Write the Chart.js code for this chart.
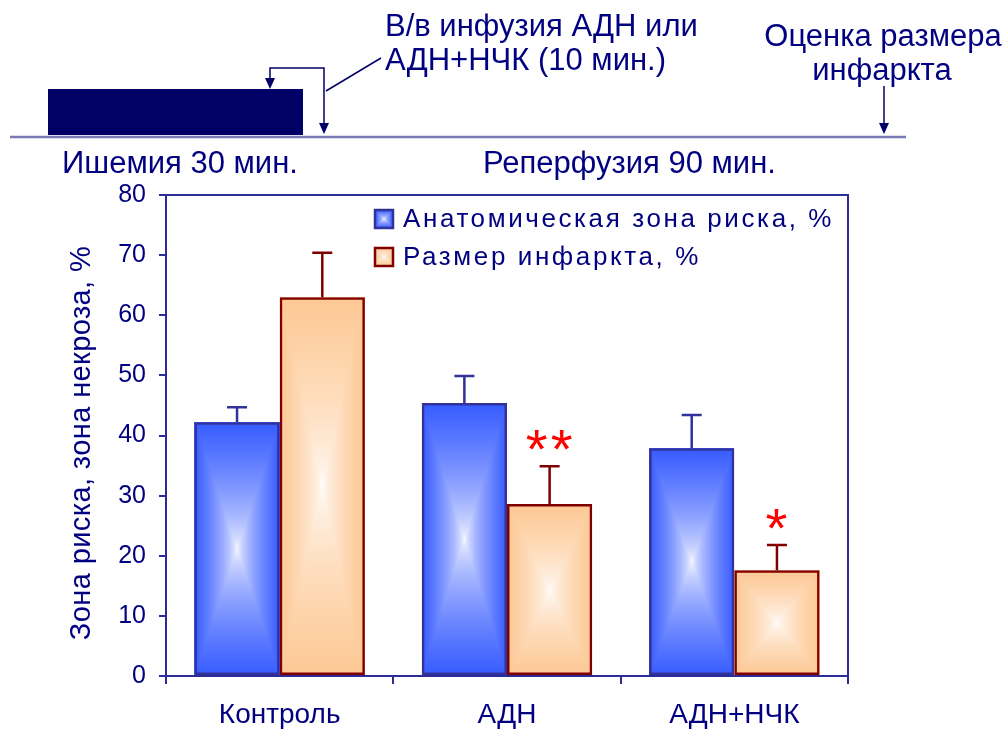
<!DOCTYPE html>
<html>
<head>
<meta charset="utf-8">
<script src="https://cdn.jsdelivr.net/npm/chart.js@4.4.1/dist/chart.umd.min.js"></script>
<style>
  html, body { margin: 0; padding: 0; background: #ffffff; }
  canvas { display: block; }
</style>
</head>
<body>
<canvas id="chart" width="1005" height="729"></canvas>
<script>
// Groups and measured values (mean and SEM, %)
const categories = ['Контроль', 'АДН', 'АДН+НЧК'];
const riskZone = [42.2, 45.4, 37.9];
const riskZoneSem = [2.5, 4.5, 5.5];
const infarctSize = [63.0, 28.6, 17.6];
const infarctSizeSem = [7.4, 6.3, 4.2];
const infarctSignificance = ['', '**', '*'];
const seriesLabels = ['Анатомическая зона риска, %', 'Размер инфаркта, %'];
const yAxisTitle = 'Зона риска, зона некроза, %';
const yRange = [0, 80];
const yStep = 10;

// Protocol timeline labels
const infusionNote = ['В/в инфузия АДН или', 'АДН+НЧК (10 мин.)'];
const assessmentNote = ['Оценка размера', 'инфаркта'];
const phaseLabels = ['Ишемия 30 мин.', 'Реперфузия 90 мин.'];

const FONT = '"Liberation Sans", Arial, sans-serif';
const TEXT = '#000080';
const AXIS = '#2c2c98';
const BLUE_EDGE = [55, 92, 255];
const ORANGE_EDGE = [253, 200, 148];
const BLUE_LINE = '#32329a';
const RED_LINE = '#800000';

Chart.defaults.font.family = FONT;

// Rectangular "from centre" gradient tile: white in the middle, edge colour at the border
function gradientTile(w, h, edge) {
  w = Math.max(1, Math.round(w));
  h = Math.max(1, Math.round(h));
  const c = document.createElement('canvas');
  c.width = w; c.height = h;
  const g = c.getContext('2d');
  const img = g.createImageData(w, h);
  const hw = w / 2, hh = h / 2;
  for (let j = 0; j < h; j++) {
    for (let i = 0; i < w; i++) {
      const dx = Math.abs(i + 0.5 - hw) / hw;
      const dy = Math.abs(j + 0.5 - hh) / hh;
      const f = Math.pow(Math.max(dx, dy), 0.62);
      const k = (j * w + i) * 4;
      img.data[k] = 255 + (edge[0] - 255) * f;
      img.data[k + 1] = 255 + (edge[1] - 255) * f;
      img.data[k + 2] = 255 + (edge[2] - 255) * f;
      img.data[k + 3] = 255;
    }
  }
  g.putImageData(img, 0, 0);
  return c;
}

const fills = [BLUE_EDGE, ORANGE_EDGE];
const sems = [riskZoneSem, infarctSizeSem];

const barFillPlugin = {
  id: 'barFill',
  beforeDatasetsDraw(chart) {
    const ctx = chart.ctx;
    chart.data.datasets.forEach((ds, di) => {
      const meta = chart.getDatasetMeta(di);
      meta.data.forEach(el => {
        const p = el.getProps(['x', 'y', 'base', 'width'], true);
        const top = Math.min(p.y, p.base);
        const h = Math.abs(p.base - p.y);
        ctx.drawImage(gradientTile(p.width, h, fills[di]), p.x - p.width / 2, top, p.width, h);
      });
    });
  }
};

const errorBarPlugin = {
  id: 'errorBars',
  afterDatasetsDraw(chart) {
    const ctx = chart.ctx;
    const yScale = chart.scales.y;
    chart.data.datasets.forEach((ds, di) => {
      const meta = chart.getDatasetMeta(di);
      meta.data.forEach((el, i) => {
        const p = el.getProps(['x', 'y'], true);
        const tip = yScale.getPixelForValue(ds.data[i] + sems[di][i]);
        ctx.save();
        ctx.strokeStyle = ds.borderColor;
        ctx.lineWidth = 2.5;
        ctx.beginPath();
        ctx.moveTo(p.x, p.y);
        ctx.lineTo(p.x, tip);
        ctx.moveTo(p.x - 10, tip);
        ctx.lineTo(p.x + 10, tip);
        ctx.stroke();
        if (di === 1 && infarctSignificance[i]) {
          ctx.font = '56px ' + FONT;
          ctx.letterSpacing = '3px';
          ctx.fillStyle = '#ff0000';
          ctx.textAlign = 'center';
          ctx.textBaseline = 'alphabetic';
          const m = ctx.measureText(infarctSignificance[i]);
          const mid = (m.actualBoundingBoxAscent - m.actualBoundingBoxDescent) / 2;
          ctx.fillText(infarctSignificance[i], p.x + 1, tip - 26 + mid);
        }
        ctx.restore();
      });
    });
  }
};

function arrowDown(ctx, x, tipY) {
  ctx.beginPath();
  ctx.moveTo(x - 5, tipY - 11);
  ctx.lineTo(x + 5, tipY - 11);
  ctx.lineTo(x, tipY);
  ctx.closePath();
  ctx.fill();
}

const decorPlugin = {
  id: 'decor',
  afterDraw(chart) {
    const ctx = chart.ctx;
    const a = chart.chartArea;
    ctx.save();

    // plot frame: top and right sides
    ctx.strokeStyle = AXIS;
    ctx.lineWidth = 2;
    ctx.beginPath();
    ctx.moveTo(a.left, a.top);
    ctx.lineTo(a.right, a.top);
    ctx.lineTo(a.right, a.bottom);
    ctx.stroke();

    // legend
    ctx.font = '26px ' + FONT;
    ctx.letterSpacing = '2.6px';
    ctx.textAlign = 'left';
    ctx.textBaseline = 'middle';
    const legendRows = [219, 257];
    chart.data.datasets.forEach((ds, di) => {
      const cy = legendRows[di];
      const bx = 375, bs = 18;
      ctx.drawImage(gradientTile(bs, bs, fills[di]), bx, cy - bs / 2, bs, bs);
      ctx.strokeStyle = ds.borderColor;
      ctx.lineWidth = 2.5;
      ctx.strokeRect(bx, cy - bs / 2, bs, bs);
      ctx.fillStyle = TEXT;
      ctx.fillText(ds.label, 403, cy + 1);
    });

    // y axis title
    ctx.save();
    ctx.translate(82, 443);
    ctx.rotate(-Math.PI / 2);
    ctx.textAlign = 'center';
    ctx.textBaseline = 'middle';
    ctx.font = '29px ' + FONT;
    ctx.letterSpacing = '0.4px';
    ctx.fillStyle = TEXT;
    ctx.fillText(yAxisTitle, 0, 0);
    ctx.restore();

    // protocol timeline
    ctx.letterSpacing = '0px';
    ctx.strokeStyle = '#7878b2';
    ctx.lineWidth = 2.5;
    ctx.beginPath();
    ctx.moveTo(10, 137);
    ctx.lineTo(906, 137);
    ctx.stroke();

    ctx.fillStyle = '#000066';
    ctx.fillRect(48, 89, 255, 46);

    ctx.strokeStyle = '#000066';
    ctx.fillStyle = '#000066';
    ctx.lineWidth = 1.5;
    ctx.beginPath();
    ctx.moveTo(270, 80);
    ctx.lineTo(270, 68);
    ctx.lineTo(324, 68);
    ctx.lineTo(324, 124);
    ctx.stroke();
    arrowDown(ctx, 270, 89);
    arrowDown(ctx, 324, 134);

    ctx.beginPath();
    ctx.moveTo(326, 91);
    ctx.lineTo(381, 58);
    ctx.stroke();

    ctx.beginPath();
    ctx.moveTo(884, 86);
    ctx.lineTo(884, 124);
    ctx.stroke();
    arrowDown(ctx, 884, 134);

    ctx.fillStyle = TEXT;
    ctx.font = '31px ' + FONT;
    ctx.textBaseline = 'alphabetic';
    ctx.textAlign = 'left';
    ctx.fillText(infusionNote[0], 385, 36);
    ctx.fillText(infusionNote[1], 385, 70);
    ctx.textAlign = 'center';
    ctx.fillText(assessmentNote[0], 883, 46);
    ctx.fillText(assessmentNote[1], 882, 80);
    ctx.textAlign = 'left';
    ctx.fillText(phaseLabels[0], 62, 173);
    ctx.fillText(phaseLabels[1], 483, 173);

    ctx.restore();
  }
};

new Chart(document.getElementById('chart'), {
  type: 'bar',
  data: {
    labels: categories,
    datasets: [
      {
        label: seriesLabels[0],
        data: riskZone,
        backgroundColor: 'rgba(0,0,0,0)',
        borderColor: BLUE_LINE,
        borderWidth: 2.5,
        borderSkipped: false
      },
      {
        label: seriesLabels[1],
        data: infarctSize,
        backgroundColor: 'rgba(0,0,0,0)',
        borderColor: RED_LINE,
        borderWidth: 2.5,
        borderSkipped: false
      }
    ]
  },
  options: {
    responsive: false,
    animation: false,
    events: [],
    layout: { padding: { top: 195, right: 157, left: 0, bottom: 0 } },
    datasets: { bar: { categoryPercentage: 0.75, barPercentage: 1.0 } },
    plugins: {
      legend: { display: false },
      tooltip: { enabled: false }
    },
    scales: {
      x: {
        afterFit: s => { s.height = 53; },
        grid: { offset: true, drawOnChartArea: false, tickLength: 8, color: AXIS, lineWidth: 2 },
        border: { display: true, color: AXIS, width: 2 },
        ticks: { color: TEXT, font: { size: 28 }, padding: 14 }
      },
      y: {
        min: yRange[0],
        max: yRange[1],
        afterFit: s => { s.width = 166; },
        grid: { drawOnChartArea: false, tickLength: 7, color: AXIS, lineWidth: 2 },
        border: { display: true, color: AXIS, width: 2 },
        ticks: { stepSize: yStep, color: TEXT, font: { size: 25 }, padding: 13 }
      }
    }
  },
  plugins: [barFillPlugin, errorBarPlugin, decorPlugin]
});
</script>
</body>
</html>
